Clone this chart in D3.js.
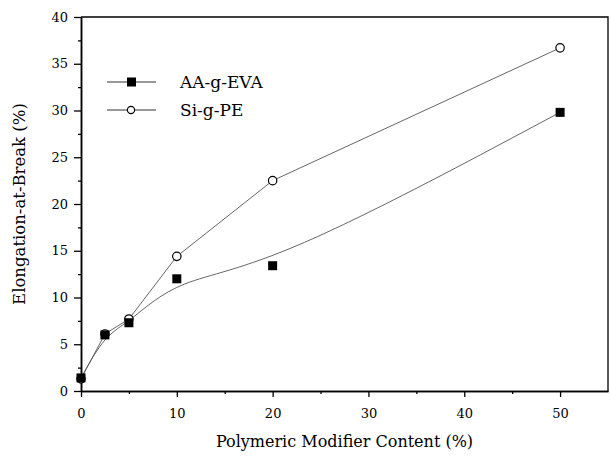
<!DOCTYPE html>
<html>
<head>
<meta charset="utf-8">
<script src="https://cdn.jsdelivr.net/npm/d3@7"></script>
<style>
  body { margin: 0; background: #fff; }
</style>
</head>
<body>
<script>
// data
var content = [0, 2.5, 5, 10, 20, 50];
var aaEva = [1.4, 6.0, 7.3, 12.0, 13.4, 29.8];
var siPe = [1.3, 6.1, 7.7, 14.4, 22.5, 36.7];
var xMajor = [0, 10, 20, 30, 40, 50];
var yMajor = [0, 5, 10, 15, 20, 25, 30, 35, 40];

var width = 611, height = 458;
var margin = {left: 81, right: 3, top: 17, bottom: 67};
var serif = "DejaVu Serif";

var svg = d3.select("body").append("svg")
    .attr("width", width)
    .attr("height", height);

var x = d3.scaleLinear().domain([0, 55]).range([margin.left, width - margin.right]);
var y = d3.scaleLinear().domain([0, 40]).range([height - margin.bottom, margin.top]);

// frame (top + right)
svg.append("path")
    .attr("d", "M" + x(0) + "," + y(40) + "H" + x(55) + "V" + y(0))
    .attr("fill", "none").attr("stroke", "#000").attr("stroke-width", 1.3);

// axes
svg.append("g")
    .attr("transform", "translate(0," + y(0) + ")")
    .call(d3.axisBottom(x).tickValues(xMajor).tickSize(6).tickSizeOuter(0).tickPadding(12));
svg.append("g")
    .attr("transform", "translate(0," + y(0) + ")")
    .call(d3.axisBottom(x).tickValues([5, 15, 25, 35, 45]).tickSize(3).tickSizeOuter(0).tickFormat(""));

svg.append("g")
    .attr("transform", "translate(" + x(0) + ",0)")
    .call(d3.axisLeft(y).tickValues(yMajor).tickSize(7).tickSizeOuter(0).tickPadding(6));
svg.append("g")
    .attr("transform", "translate(" + x(0) + ",0)")
    .call(d3.axisLeft(y).tickValues([2.5, 7.5, 12.5, 17.5, 22.5, 27.5, 32.5, 37.5]).tickSize(3).tickSizeOuter(0).tickFormat(""));

svg.selectAll("g").attr("font-family", serif);
svg.selectAll(".domain").attr("stroke-width", 1.5);
svg.selectAll(".tick line").attr("stroke-width", 1.3);
svg.selectAll(".tick text")
    .attr("font-family", serif)
    .attr("font-size", 13);

// axis titles
svg.append("text")
    .attr("x", (x(0) + x(55)) / 2)
    .attr("y", 447)
    .attr("text-anchor", "middle")
    .attr("font-family", serif)
    .attr("font-size", 16)
    .text("Polymeric Modifier Content (%)");

svg.append("text")
    .attr("transform", "translate(25," + ((y(0) + y(40)) / 2) + ") rotate(-90)")
    .attr("text-anchor", "middle")
    .attr("font-family", serif)
    .attr("font-size", 16.5)
    .text("Elongation-at-Break (%)");

// lines
var aaPts = content.map(function(c, i) { return [c, aaEva[i]]; });
var siPts = content.map(function(c, i) { return [c, siPe[i]]; });

var smooth = d3.line().x(function(d) { return x(d[0]); }).y(function(d) { return y(d[1]); }).curve(d3.curveBasis);
var straight = d3.line().x(function(d) { return x(d[0]); }).y(function(d) { return y(d[1]); });

svg.append("path").attr("d", smooth(aaPts))
    .attr("fill", "none").attr("stroke", "#555").attr("stroke-width", 0.9);
svg.append("path").attr("d", straight(siPts))
    .attr("fill", "none").attr("stroke", "#555").attr("stroke-width", 0.9);

// markers
svg.selectAll(".ci").data(siPts).enter().append("circle")
    .attr("class", "ci")
    .attr("cx", function(d) { return x(d[0]); })
    .attr("cy", function(d) { return y(d[1]); })
    .attr("r", 4.2)
    .attr("fill", "#fff").attr("stroke", "#000").attr("stroke-width", 1.2);

svg.selectAll(".sq").data(aaPts).enter().append("rect")
    .attr("class", "sq")
    .attr("x", function(d) { return x(d[0]) - 4.5; })
    .attr("y", function(d) { return y(d[1]) - 4.5; })
    .attr("width", 9).attr("height", 9)
    .attr("fill", "#000");

// legend
var legend = svg.append("g");
var rows = [{name: "AA-g-EVA", y: 82, mark: "square"}, {name: "Si-g-PE", y: 110, mark: "circle"}];
rows.forEach(function(r) {
    legend.append("line")
        .attr("x1", 107).attr("x2", 156).attr("y1", r.y).attr("y2", r.y)
        .attr("stroke", "#333").attr("stroke-width", 1);
    if (r.mark == "square") {
        legend.append("rect").attr("x", 127).attr("y", r.y - 4.5)
            .attr("width", 9).attr("height", 9).attr("fill", "#000");
    } else {
        legend.append("circle").attr("cx", 131).attr("cy", r.y).attr("r", 3.6)
            .attr("fill", "#fff").attr("stroke", "#000").attr("stroke-width", 1.2);
    }
    legend.append("text")
        .attr("x", 180).attr("y", r.y + 6)
        .attr("font-family", serif)
        .attr("font-size", 17)
        .text(r.name);
});
</script>
</body>
</html>
